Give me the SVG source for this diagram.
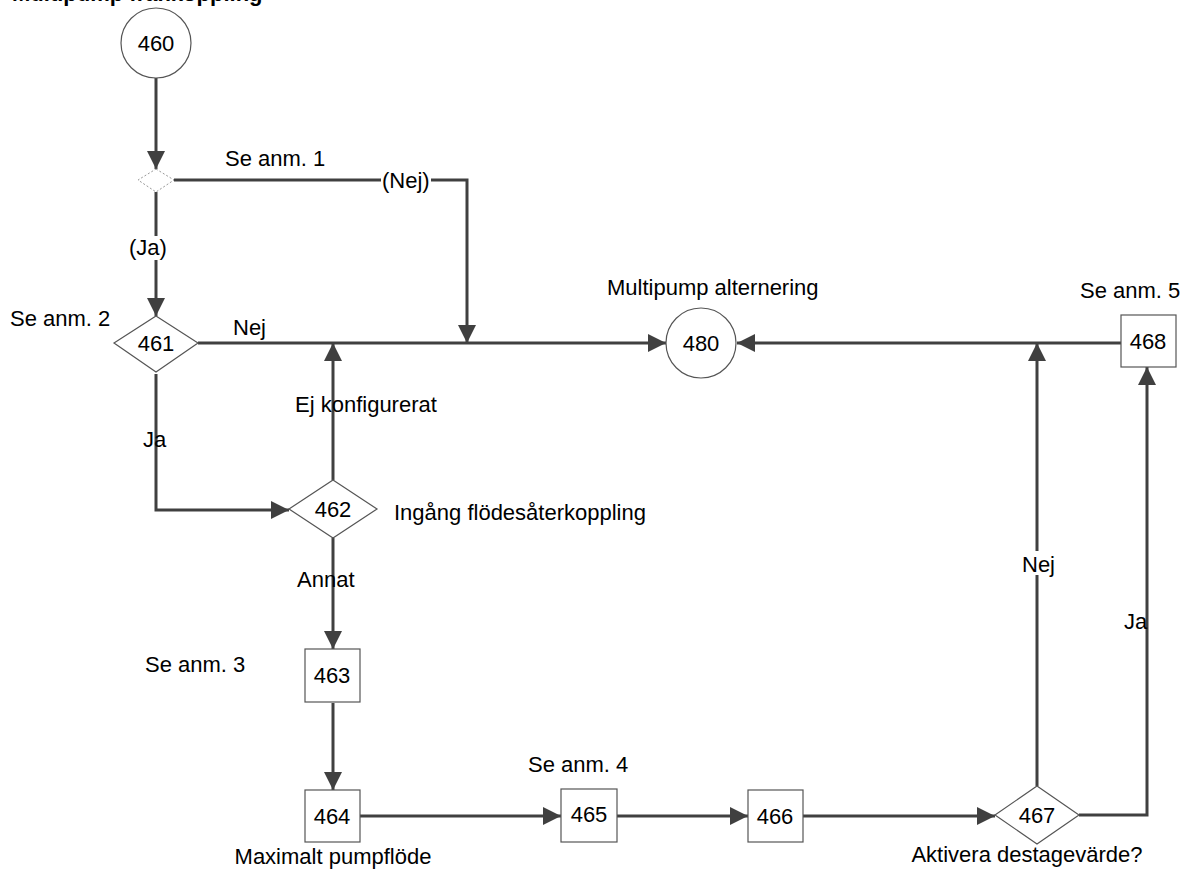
<svg xmlns="http://www.w3.org/2000/svg" width="1181" height="869" viewBox="0 0 1181 869">
<defs>
<marker id="ah" markerUnits="userSpaceOnUse" markerWidth="18" markerHeight="18" refX="18" refY="9" orient="auto">
<path d="M0,0 L18,9 L0,18 z" fill="#404040"/>
</marker>
<style>
text{font-family:"Liberation Sans",Arial,sans-serif;font-size:22px;fill:#000}
.title{font-weight:bold}
.c{text-anchor:middle}
.node{fill:#fff;stroke:#555;stroke-width:1.2}
.dot{fill:#fff;stroke:#999;stroke-width:1;stroke-dasharray:2,2}
.edge{fill:none;stroke:#404040;stroke-width:3}
.arr{marker-end:url(#ah)}
.bg{fill:#fff}
</style>
</defs>
<rect width="1181" height="869" fill="#fff"/>
<text class="title" x="12" y="1">Multipump frånkoppling</text>
<g id="connectors">
<path class="edge arr" d="M156,78 L156,169"/>
<path class="edge arr" d="M174,180 L467,180 L467,343"/>
<path class="edge arr" d="M156,192 L156,316"/>
<path class="edge arr" d="M198,343 L666,343"/>
<path class="edge arr" d="M333,480 L333,343"/>
<path class="edge arr" d="M156,374 L156,510 L289,510"/>
<path class="edge arr" d="M333,538 L333,649"/>
<path class="edge arr" d="M333,703 L333,790"/>
<path class="edge arr" d="M360,816 L561,816"/>
<path class="edge arr" d="M617,816 L748,816"/>
<path class="edge arr" d="M803,816 L995,816"/>
<path class="edge arr" d="M1037,786 L1037,343"/>
<path class="edge arr" d="M1079,815 L1147,815 L1147,367"/>
<path class="edge arr" d="M1121,343 L737,343"/>
<rect class="bg" x="381" y="170" width="50" height="22"/>
<text x="382" y="188">(Nej)</text>
<rect class="bg" x="128" y="236" width="39" height="24"/>
<text x="129" y="255">(Ja)</text>
<text x="233" y="335">Nej</text>
<text x="295" y="412">Ej konfigurerat</text>
<text x="143" y="447">Ja</text>
<text x="297" y="587">Annat</text>
<rect class="bg" x="1021" y="551" width="33" height="24"/>
<text x="1022" y="572">Nej</text>
<text x="1124" y="629">Ja</text>
</g>
<g id="n460"><circle class="node" cx="156" cy="43" r="35"/><text class="c" x="156" y="51">460</text></g>
<g id="n459"><polygon class="dot" points="156,169 174,180 156,192 138,180"/></g>
<g id="n461"><polygon class="node" points="156,316 198,343 156,372 114,343"/><text class="c" x="156" y="351">461</text></g>
<g id="n462"><polygon class="node" points="333,480 377,509 333,538 289,509"/><text class="c" x="333" y="517">462</text></g>
<g id="n463"><rect class="node" x="305" y="649" width="55" height="53"/><text class="c" x="332" y="683">463</text></g>
<g id="n464"><rect class="node" x="305" y="790" width="55" height="52"/><text class="c" x="332" y="824">464</text></g>
<g id="n465"><rect class="node" x="561" y="789" width="56" height="53"/><text class="c" x="589" y="822">465</text></g>
<g id="n466"><rect class="node" x="748" y="790" width="55" height="52"/><text class="c" x="775" y="824">466</text></g>
<g id="n467"><polygon class="node" points="1037,786 1079,815 1037,844 995,815"/><text class="c" x="1037" y="823">467</text></g>
<g id="n468"><rect class="node" x="1121" y="315" width="55" height="52"/><text class="c" x="1148" y="349">468</text></g>
<g id="n480"><circle class="node" cx="701" cy="343" r="35"/><text class="c" x="701" y="351">480</text></g>
<g id="labels">
<text x="225" y="166">Se anm. 1</text>
<text x="10" y="326">Se anm. 2</text>
<text x="607" y="295">Multipump alternering</text>
<text x="1080" y="298">Se anm. 5</text>
<text x="394" y="520">Ingång flödesåterkoppling</text>
<text x="145" y="672">Se anm. 3</text>
<text x="528" y="772">Se anm. 4</text>
<text class="c" x="333" y="864">Maximalt pumpflöde</text>
<text class="c" x="1027" y="862">Aktivera destagevärde?</text>
</g>
</svg>
